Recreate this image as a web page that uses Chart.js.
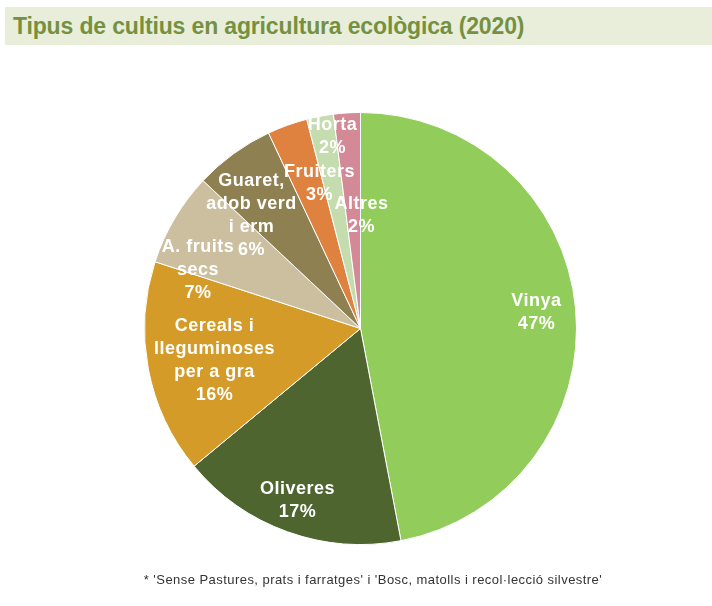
<!DOCTYPE html>
<html lang="ca">
<head>
<meta charset="utf-8">
<title>Tipus de cultius en agricultura ecològica (2020)</title>
<script src="https://cdn.jsdelivr.net/npm/chart.js@4.4.1/dist/chart.umd.min.js"></script>
<style>
  html, body { margin: 0; padding: 0; background: #fff; }
  body { width: 712px; height: 606px; position: relative; overflow: hidden; font-family: "Liberation Sans", Arial, sans-serif; }
  #titol {
    position: absolute; left: 5px; top: 7px; width: 707px; height: 38px;
    background: #e9eedb; color: #759140;
    font-weight: bold; font-size: 23px; line-height: 38px;
    padding-left: 8px; box-sizing: border-box; letter-spacing: -0.15px;
  }
  #nota {
    position: absolute; left: 0; top: 572px; width: 746px; text-align: center;
    font-size: 13px; color: #333; letter-spacing: 0.45px;
  }
  #grafic { position: absolute; left: 0; top: 0; }
</style>
</head>
<body>
<canvas id="grafic" width="712" height="606"></canvas>
<div id="titol">Tipus de cultius en agricultura ecològica (2020)</div>
<div id="nota">* 'Sense Pastures, prats i farratges' i 'Bosc, matolls i recol·lecció silvestre'</div>

<script>
// dades
const categories = ['Vinya', 'Oliveres', 'Cereals i lleguminoses per a gra', 'A. fruits secs',
                    'Guaret, adob verd i erm', 'Fruiters', 'Horta', 'Altres'];
const percentatges = [47, 17, 16, 7, 6, 3, 2, 2];
const etiquetes = [
  ['Vinya'],
  ['Oliveres'],
  ['Cereals i', 'lleguminoses', 'per a gra'],
  ['A. fruits', 'secs'],
  ['Guaret,', 'adob verd', 'i erm'],
  ['Fruiters'],
  ['Horta'],
  ['Altres']
];

const colors = ['#92cd5c', '#4f6530', '#d49b29', '#cbbf9f', '#8f8052', '#e0823f', '#c5dcae', '#d48a96'];

// posició de cada etiqueta: fracció del radi i angle (graus des de dalt, sentit horari)
const posEtiquetes = [
  [0.818, 84.8], [0.848, 200.1], [0.692, 257.6], [0.80, 289.9],
  [0.727, 316.0], [0.698, 344.2], [0.898, 351.7], [0.523, 0.5]
];

const LINIA = 23;

const pluginEtiquetes = {
  id: 'etiquetes',
  afterDatasetsDraw(chart) {
    const ctx  = chart.ctx;
    const arcs = chart.getDatasetMeta(0).data;

    ctx.save();
    ctx.font = 'bold 18px "Liberation Sans", Arial, sans-serif';
    ctx.letterSpacing = '0.5px';
    ctx.fillStyle = '#ffffff';
    ctx.textAlign = 'center';
    ctx.textBaseline = 'middle';

    arcs.forEach((arc, i) => {
      const { x, y, outerRadius } = arc.getProps(['x', 'y', 'outerRadius'], true);
      const [f, graus] = posEtiquetes[i];
      const a  = graus * Math.PI / 180;
      const cx = x + f * outerRadius * Math.sin(a);
      const cy = y - f * outerRadius * Math.cos(a);

      const linies = [...etiquetes[i], percentatges[i] + '%'];
      const y0 = cy - (linies.length - 1) * LINIA / 2;
      linies.forEach((t, k) => ctx.fillText(t, cx, y0 + k * LINIA));
    });
    ctx.restore();
  }
};

new Chart(document.getElementById('grafic'), {
  type: 'pie',
  data: {
    labels: categories,
    datasets: [{
      data: percentatges,
      backgroundColor: colors,
      borderColor: '#ffffff',
      borderWidth: 1
    }]
  },
  options: {
    responsive: false,
    animation: false,
    layout: { padding: { top: 112, bottom: 61, left: 144, right: 135 } },
    plugins: {
      legend: { display: false },
      tooltip: { enabled: false }
    }
  },
  plugins: [pluginEtiquetes]
});
</script>
</body>
</html>
